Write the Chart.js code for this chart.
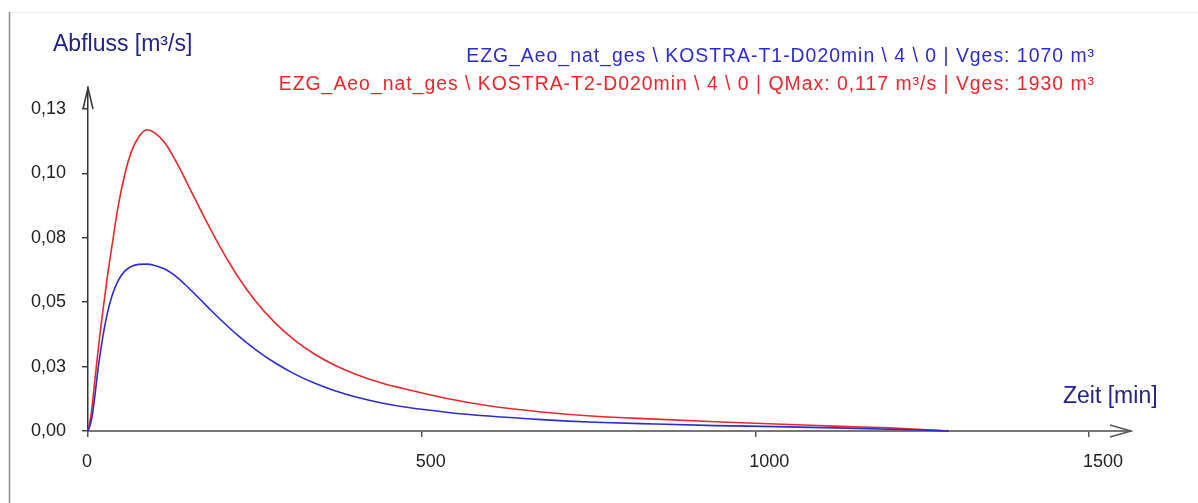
<!DOCTYPE html>
<html>
<head>
<meta charset="utf-8">
<script src="https://cdn.jsdelivr.net/npm/chart.js@4.4.1/dist/chart.umd.min.js"></script>
<style>
  html, body { margin: 0; padding: 0; background: #ffffff; }
  #wrap { width: 1198px; height: 503px; position: relative; }
</style>
</head>
<body>
<div id="wrap"><canvas id="c" width="1198" height="503"></canvas></div>
<script>
// ---- data ----
const times = [0, 5, 10, 15, 20, 28, 36, 45, 55, 65, 76, 88, 100, 115, 130, 145, 160, 180, 200, 225, 250, 280, 310, 340, 370, 400, 440, 480, 540, 600, 680, 760, 850, 940, 1030, 1120, 1200, 1250, 1290];
const redValues = [0, 0.007, 0.019, 0.031, 0.042, 0.058, 0.072, 0.087, 0.0995, 0.1085, 0.1142, 0.117, 0.1158, 0.1119, 0.1056, 0.0981, 0.0903, 0.0801, 0.0705, 0.0598, 0.0508, 0.0421, 0.0352, 0.0298, 0.0255, 0.0221, 0.0186, 0.0160, 0.0125, 0.0098, 0.0074, 0.0057, 0.0046, 0.0036, 0.0027, 0.0019, 0.0012, 0.0006, 0];
const blueValues = [0, 0.004, 0.013, 0.024, 0.033, 0.0445, 0.0525, 0.0583, 0.0621, 0.0639, 0.0647, 0.0648, 0.0643, 0.0629, 0.0604, 0.0570, 0.0532, 0.0480, 0.0429, 0.0370, 0.0318, 0.0265, 0.0221, 0.0185, 0.0156, 0.0133, 0.0109, 0.0091, 0.0072, 0.0058, 0.0044, 0.0034, 0.0027, 0.0021, 0.0017, 0.0012, 0.0007, 0.0004, 0];
const blueLabel = "EZG_Aeo_nat_ges \\ KOSTRA-T1-D020min \\ 4 \\ 0 | Vges: 1070 m³";
const redLabel = "EZG_Aeo_nat_ges \\ KOSTRA-T2-D020min \\ 4 \\ 0 | QMax: 0,117 m³/s | Vges: 1930 m³";
const xTicks = [0, 500, 1000, 1500];
const xTickLabels = ["0", "500", "1000", "1500"];
const yTicks = [0, 0.025, 0.05, 0.075, 0.1, 0.125];
const yTickLabels = ["0,00", "0,03", "0,05", "0,08", "0,10", "0,13"];
const yAxisTitle = "Abfluss [m³/s]";
const xAxisTitle = "Zeit [min]";

const BLUE = '#2d2dcc';
const RED = '#e8282c';
const NAVY = '#23238a';
const FONT = '"Liberation Sans", Arial, sans-serif';

const framePlugin = {
  id: 'frame',
  beforeDraw(chart) {
    const ctx = chart.ctx;
    ctx.save();
    ctx.fillStyle = '#ffffff';
    ctx.fillRect(0, 0, chart.width, chart.height);
    ctx.strokeStyle = '#f0f0f0';
    ctx.lineWidth = 1;
    ctx.beginPath(); ctx.moveTo(10, 12.5); ctx.lineTo(chart.width, 12.5); ctx.stroke();
    ctx.strokeStyle = '#8c8c8c';
    ctx.lineWidth = 1.5;
    ctx.beginPath(); ctx.moveTo(9.5, 12); ctx.lineTo(9.5, chart.height); ctx.stroke();
    ctx.restore();
  }
};

const decoPlugin = {
  id: 'deco',
  afterDraw(chart) {
    const ctx = chart.ctx;
    const a = chart.chartArea;
    ctx.save();
    // arrows
    ctx.lineWidth = 1.5;
    ctx.strokeStyle = '#333333';
    ctx.beginPath();
    ctx.moveTo(a.left - 5, a.top + 21);
    ctx.lineTo(a.left, a.top);
    ctx.lineTo(a.left + 5, a.top + 21);
    ctx.stroke();
    ctx.strokeStyle = '#555555';
    ctx.beginPath();
    ctx.moveTo(a.right - 21, a.bottom - 6);
    ctx.lineTo(a.right, a.bottom);
    ctx.lineTo(a.right - 21, a.bottom + 6);
    ctx.stroke();
    // axis titles
    ctx.fillStyle = NAVY;
    ctx.textBaseline = 'alphabetic';
    ctx.textAlign = 'left';
    ctx.font = '23px ' + FONT;
    ctx.fillText(yAxisTitle, 53, 51);
    ctx.fillText(xAxisTitle, 1063, 403);
    // series labels (legend)
    ctx.font = '19.4px ' + FONT;
    ctx.textAlign = 'right';
    if ('letterSpacing' in ctx) ctx.letterSpacing = '1px';
    const ds = chart.data.datasets;
    ctx.fillStyle = ds[0].borderColor;
    ctx.fillText(ds[0].label, 1095, 62);
    ctx.fillStyle = ds[1].borderColor;
    ctx.fillText(ds[1].label, 1095, 90);
    ctx.restore();
  }
};

new Chart(document.getElementById('c'), {
  type: 'line',
  data: {
    datasets: [
      { label: blueLabel, data: times.map((t, i) => ({ x: t, y: blueValues[i] })), borderColor: BLUE, borderWidth: 1.6, pointRadius: 0, fill: false, cubicInterpolationMode: 'monotone', clip: false },
      { label: redLabel, data: times.map((t, i) => ({ x: t, y: redValues[i] })), borderColor: RED, borderWidth: 1.6, pointRadius: 0, fill: false, cubicInterpolationMode: 'monotone', clip: false }
    ]
  },
  options: {
    responsive: false,
    animation: false,
    devicePixelRatio: 1,
    layout: { padding: { left: 0, top: 88, right: 67, bottom: 0 } },
    plugins: { legend: { display: false }, tooltip: { enabled: false }, title: { display: false } },
    scales: {
      x: {
        type: 'linear', position: 'bottom', min: 0, max: 1563,
        afterBuildTicks: s => { s.ticks = xTicks.map(v => ({ value: v })); },
        afterFit: s => { s.height = 72; },
        grid: { drawOnChartArea: false, drawTicks: true, tickLength: 6, color: '#555555', lineWidth: 1.5 },
        border: { display: true, color: '#777777', width: 2 },
        ticks: { font: { family: FONT, size: 18 }, color: '#222222', padding: 14, align: 'start', labelOffset: -6, maxRotation: 0, autoSkip: false,
          callback: (v, i) => xTickLabels[i] }
      },
      y: {
        type: 'linear', position: 'left', min: 0, max: 0.1332,
        afterBuildTicks: s => { s.ticks = yTicks.map(v => ({ value: v })); },
        afterFit: s => { s.width = 88; },
        grid: { drawOnChartArea: false, drawTicks: true, tickLength: 6, color: '#444444', lineWidth: 1.5 },
        border: { display: true, color: '#333333', width: 1.5 },
        ticks: { font: { family: FONT, size: 18 }, color: '#222222', padding: 16, autoSkip: false,
          callback: (v, i) => yTickLabels[i] }
      }
    }
  },
  plugins: [framePlugin, decoPlugin]
});
</script>
</body>
</html>
